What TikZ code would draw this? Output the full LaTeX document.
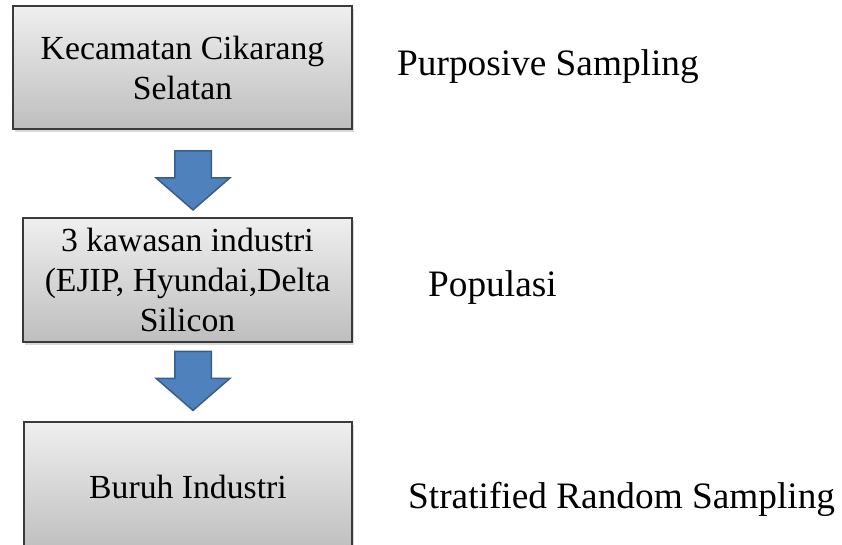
\documentclass[tikz,border=0pt]{standalone}
\usepackage{fontspec}
\setmainfont{Liberation Serif}
\usetikzlibrary{shapes.arrows, shadows}
\definecolor{boxtop}{HTML}{EFEFEF}
\definecolor{boxbottom}{HTML}{BEBEBE}
\definecolor{boxline}{HTML}{3A3A3A}
\definecolor{flowblue}{HTML}{4F81BD}
\definecolor{flowline}{HTML}{385D8A}

\begin{document}
\begin{tikzpicture}[x=1pt, y=-1pt,
    box/.style={rectangle, draw=boxline, line width=1.2pt, top color=boxtop, bottom color=boxbottom, align=center, inner sep=0pt, font=\fontsize{33.7}{40}\selectfont, drop shadow={shadow xshift=1.5pt, shadow yshift=-2.5pt, opacity=0.3}},
    downarrow/.style={single arrow, rotate=-90, draw=flowline, line width=1.5pt, fill=flowblue, minimum width=72pt, minimum height=59pt, single arrow head extend=18.5pt, single arrow tip angle=98, inner xsep=0pt, inner ysep=17.5pt},
    label/.style={anchor=base west, inner sep=0pt, font=\fontsize{37.3}{44}\selectfont}
]
\useasboundingbox (0,0) rectangle (842,544);
\clip (0,0) rectangle (842,544);

% Stages
\node[box, minimum width=339pt, minimum height=123pt] (kec) at (182.5,67.5) {Kecamatan Cikarang\\Selatan};
\node[box, minimum width=329pt, minimum height=124pt] (kawasan) at (187.5,280) {3 kawasan industri\\(EJIP, Hyundai,Delta\\Silicon};
\node[box, minimum width=328pt, minimum height=130pt] (buruh) at (188,487) {Buruh Industri};

% Block arrows
\node[downarrow] (down1) at (193,172.5) {};
\node[downarrow] (down2) at (193,373) {};

% Sampling labels
\node[label] (purposive) at (397,75) {Purposive Sampling};
\node[label] (populasi) at (428,296) {Populasi};
\node[label] (stratified) at (408,508) {Stratified Random Sampling};

\end{tikzpicture}
\end{document}
